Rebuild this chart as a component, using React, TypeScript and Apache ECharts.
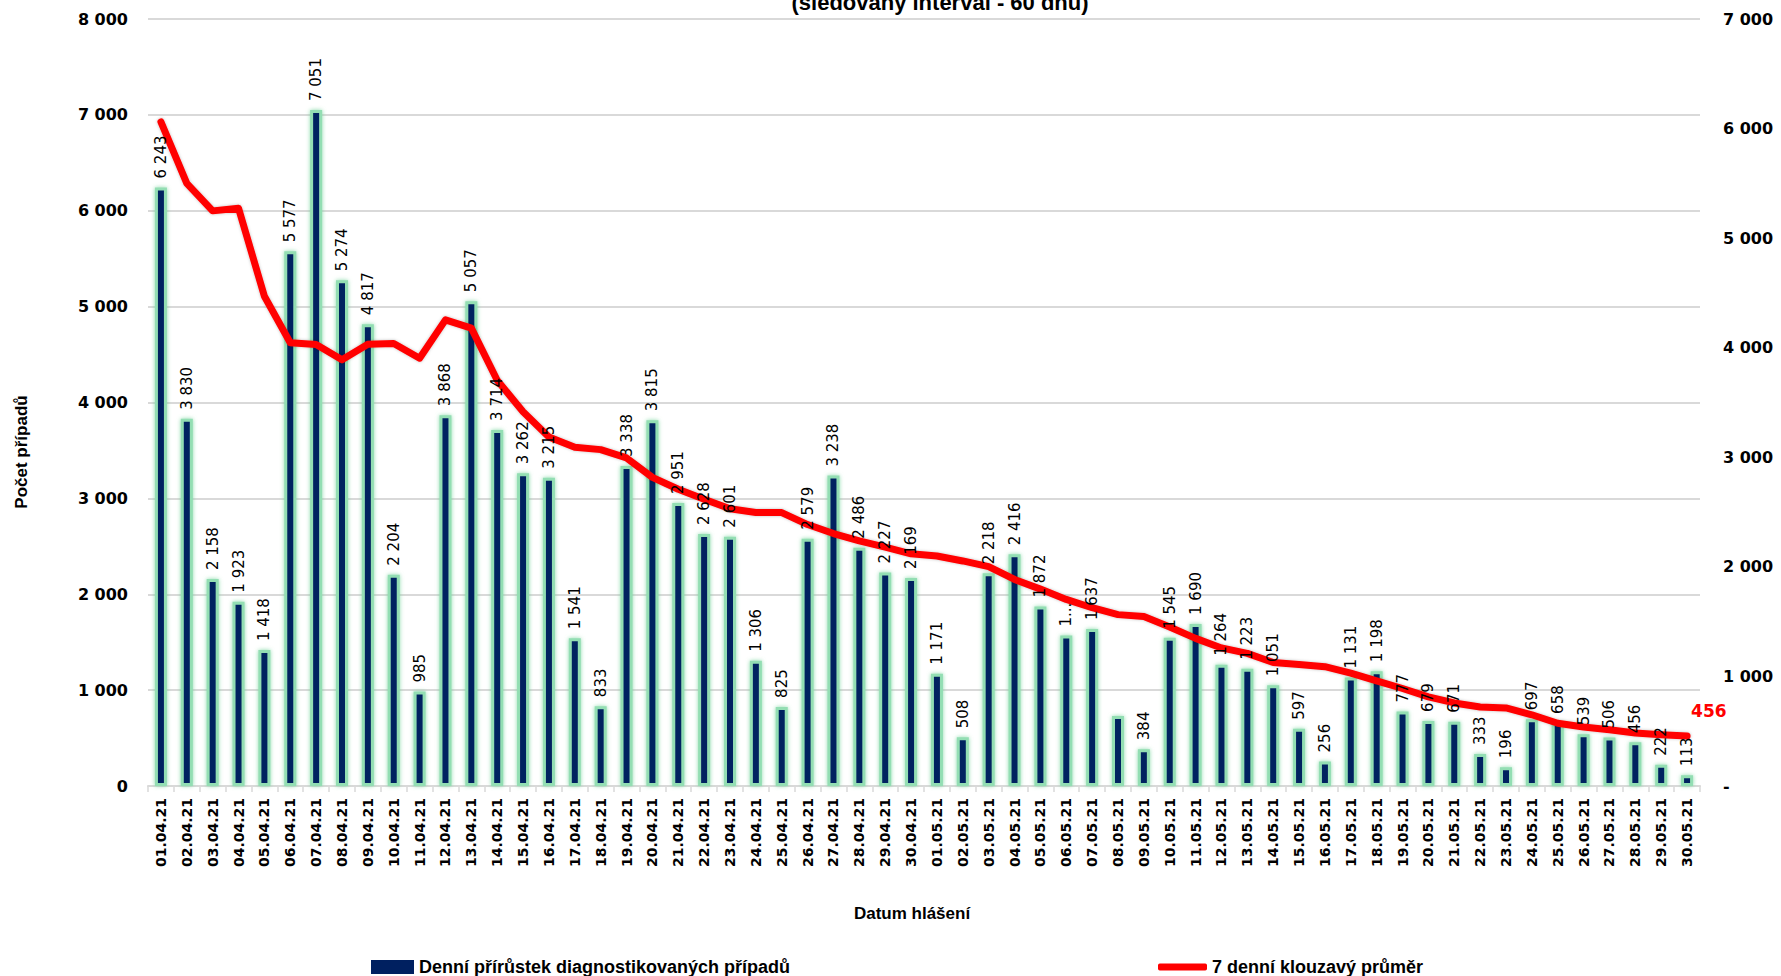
import React, { useEffect, useRef } from "react";
import * as echarts from "echarts";

const categories = [
  "01.04.21","02.04.21","03.04.21","04.04.21","05.04.21","06.04.21","07.04.21","08.04.21","09.04.21","10.04.21",
  "11.04.21","12.04.21","13.04.21","14.04.21","15.04.21","16.04.21","17.04.21","18.04.21","19.04.21","20.04.21",
  "21.04.21","22.04.21","23.04.21","24.04.21","25.04.21","26.04.21","27.04.21","28.04.21","29.04.21","30.04.21",
  "01.05.21","02.05.21","03.05.21","04.05.21","05.05.21","06.05.21","07.05.21","08.05.21","09.05.21","10.05.21",
  "11.05.21","12.05.21","13.05.21","14.05.21","15.05.21","16.05.21","17.05.21","18.05.21","19.05.21","20.05.21",
  "21.05.21","22.05.21","23.05.21","24.05.21","25.05.21","26.05.21","27.05.21","28.05.21","29.05.21","30.05.21",
];

const dailyCases = [
  6243, 3830, 2158, 1923, 1418, 5577, 7051, 5274, 4817, 2204,
  985, 3868, 5057, 3714, 3262, 3215, 1541, 833, 3338, 3815,
  2951, 2628, 2601, 1306, 825, 2579, 3238, 2486, 2227, 2169,
  1171, 508, 2218, 2416, 1872, 1570, 1637, 730, 384, 1545,
  1690, 1264, 1223, 1051, 597, 256, 1131, 1198, 777, 679,
  671, 333, 196, 697, 658, 539, 506, 456, 222, 113,
];

// label text as shown in the chart ("" = label hidden, "1..." = truncated)
const labelOverrides: Record<number, string> = { 35: "1...", 37: "" };

const movingAvg = [
  6061, 5500, 5249, 5273, 4470, 4045, 4029, 3890, 4031, 4038,
  3904, 4254, 4179, 3703, 3415, 3186, 3092, 3070, 2994, 2817,
  2708, 2617, 2530, 2496, 2495, 2386, 2304, 2238, 2180, 2119,
  2099, 2054, 2002, 1885, 1797, 1703, 1627, 1564, 1547, 1451,
  1347, 1260, 1210, 1127, 1108, 1089, 1030, 960, 890, 813,
  758, 721, 712, 650, 573, 539, 514, 484, 468, 456,
];

const leftTicks = { min: 0, max: 8000, interval: 1000 };
const rightTicks = { min: 0, max: 7000, interval: 1000 };

const barName = "Denní přírůstek diagnostikovaných případů";
const lineName = "7 denní klouzavý průměr";
const titleText = "(sledovaný interval - 60 dnů)";
const xName = "Datum hlášení";
const yName = "Počet případů";

const fmt = (v: number) => {
  const s = Math.round(v).toString();
  return s.replace(/\B(?=(\d{3})+(?!\d))/g, " ");
};

const sans = "'Liberation Sans', Arial, sans-serif";
const wide = "'DejaVu Sans', Verdana, sans-serif";

export default function App() {
  const ref = useRef<HTMLDivElement>(null);
  useEffect(() => {
    document.body.style.margin = "0";
    if (!ref.current) return;
    const chart = echarts.init(ref.current, undefined, { renderer: "svg" });
    chart.setOption({
      animation: false,
      backgroundColor: "#ffffff",
      grid: { left: 148, right: 81, top: 19, bottom: 190, containLabel: false },
      graphic: [
        {
          type: "text",
          x: 940,
          y: 13,
          style: {
            text: titleText,
            font: `bold 22px ${sans}`,
            fill: "#000",
            align: "center",
            verticalAlign: "bottom",
          },
        },
        {
          type: "text",
          x: 912,
          y: 913,
          style: {
            text: xName,
            font: `bold 17px ${sans}`,
            fill: "#000",
            align: "center",
            verticalAlign: "middle",
          },
        },
        {
          type: "text",
          x: 21,
          y: 452,
          rotation: Math.PI / 2,
          style: {
            text: yName,
            font: `bold 17px ${sans}`,
            fill: "#000",
            align: "center",
            verticalAlign: "middle",
          },
        },
      ],
      legend: [
        {
          data: [barName],
          left: 366,
          top: 953,
          itemWidth: 43,
          itemHeight: 14,
          icon: "rect",
          itemGap: 8,
          itemStyle: { borderWidth: 0, shadowBlur: 0, color: "#002060" },
          textStyle: { fontFamily: sans, fontWeight: "bold", fontSize: 18, color: "#000" },
        },
        {
          data: [lineName],
          left: 1153,
          top: 953,
          itemWidth: 49,
          itemHeight: 7,
          icon: "roundRect",
          itemGap: 4,
          itemStyle: { color: "#ff0000" },
          textStyle: { fontFamily: sans, fontWeight: "bold", fontSize: 18, color: "#000" },
        },
      ],
      xAxis: {
        type: "category",
        data: categories,
        axisLine: { lineStyle: { color: "#d9d9d9", width: 2 } },
        axisTick: { show: true, interval: 0, length: 6, lineStyle: { color: "#d9d9d9", width: 1.5 } },
        axisLabel: {
          interval: 0,
          rotate: 90,
          margin: 12,
          fontFamily: wide,
          fontWeight: "bold",
          fontSize: 14,
          color: "#000",
        },
      },
      yAxis: [
        {
          type: "value",
          ...leftTicks,
          axisLine: { show: false },
          axisTick: { show: false },
          splitLine: { lineStyle: { color: "#d9d9d9", width: 2 } },
          axisLabel: {
            margin: 20,
            fontFamily: wide,
            fontWeight: "bold",
            fontSize: 16,
            color: "#000",
            formatter: (v: number) => fmt(v),
          },
        },
        {
          type: "value",
          ...rightTicks,
          position: "right",
          axisLine: { show: false },
          axisTick: { show: false },
          splitLine: { show: false },
          axisLabel: {
            margin: 23,
            fontFamily: wide,
            fontWeight: "bold",
            fontSize: 16,
            color: "#000",
            formatter: (v: number) => (v === 0 ? "-" : fmt(v)),
          },
        },
      ],
      series: [
        {
          name: barName,
          type: "bar",
          yAxisIndex: 0,
          data: dailyCases,
          barWidth: 12,
          z: 2,
          itemStyle: {
            color: "#002060",
            borderColor: "#93deb3",
            borderWidth: 3,
            shadowBlur: 4,
            shadowColor: "rgba(110, 210, 150, 0.8)",
          },
        },
        {
          name: lineName,
          type: "line",
          yAxisIndex: 1,
          showSymbol: false,
          symbol: "none",
          z: 5,
          lineStyle: {
            color: "#ff0000",
            width: 7,
            cap: "round",
            join: "round",
            shadowBlur: 3,
            shadowColor: "rgba(0,0,0,0.25)",
          },
          itemStyle: { color: "#ff0000" },
          endLabel: {
            show: true,
            distance: 4,
            offset: [0, -25],
            fontFamily: wide,
            fontWeight: "bold",
            fontSize: 17,
            color: "#ff0000",
            formatter: (p: any) => fmt(p.value),
          },
          data: movingAvg,
        },
        {
          name: "labels",
          type: "bar",
          yAxisIndex: 0,
          data: dailyCases,
          barWidth: 12,
          barGap: "-100%",
          silent: true,
          z: 8,
          itemStyle: { color: "rgba(0,0,0,0)", borderWidth: 0 },
          label: {
            show: true,
            position: "top",
            rotate: 90,
            align: "left",
            verticalAlign: "middle",
            distance: 9,
            fontFamily: wide,
            fontSize: 15,
            color: "#000",
            formatter: (p: any) =>
              labelOverrides[p.dataIndex] !== undefined ? labelOverrides[p.dataIndex] : fmt(p.value),
          },
        },
      ],
    });
    return () => chart.dispose();
  }, []);
  return <div ref={ref} style={{ width: 1781, height: 976 }} />;
}
